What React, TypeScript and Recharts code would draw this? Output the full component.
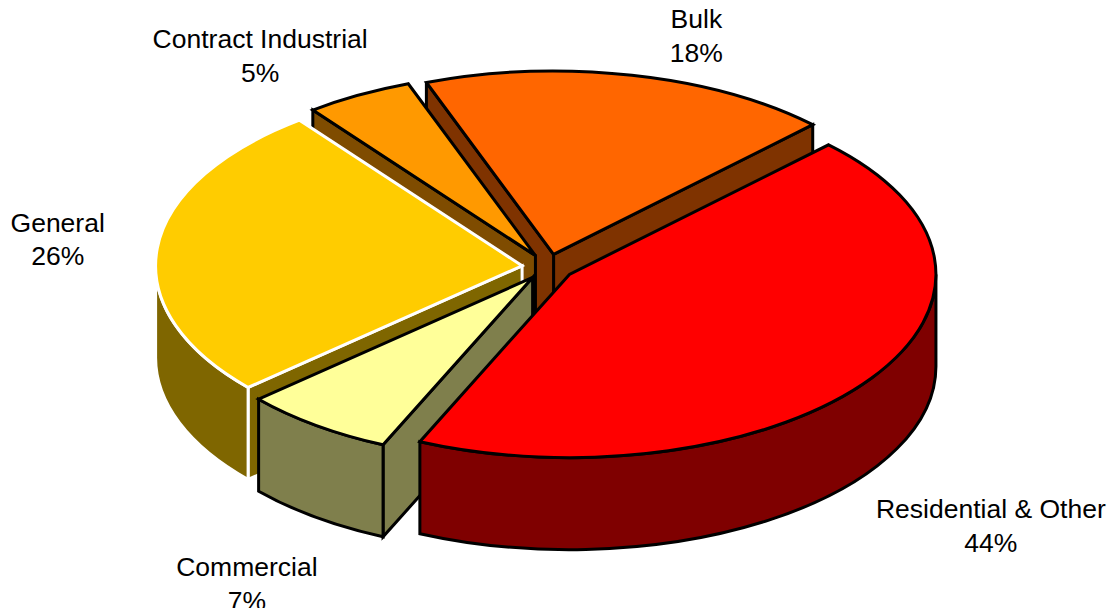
import { PieChart, Pie, Cell } from 'recharts';

// drawn back to front, counter-clockwise from the Bulk / Residential cut
const names = ['Bulk', 'Contract Industrial', 'General', 'Commercial', 'Residential & Other'];
const shares = [18.14, 4.75, 26.17, 6.75, 44.19];
const colors = ['#FF6600', '#FF9900', '#FFCC00', '#FFFF99', '#FF0000'];
const edges = ['#000000', '#000000', '#FFFFFF', '#000000', '#000000'];
const labelShifts = [
  [70, -59.5],
  [-111, -58.5],
  [-125.5, -17.5],
  [-84.5, 161.5],
  [141, 147.5],
];

const CX = 548;
const CY = 267;
const RADIUS = 366.5;
const TILT = 0.5;
const DEPTH = 92;
const EXPLODE = 0.071;

const rad = (deg: number) => (deg * Math.PI) / 180;

function project(x0: number, y0: number, r: number, deg: number) {
  return [x0 + r * Math.cos(rad(deg)), y0 - r * TILT * Math.sin(rad(deg))];
}

function shade(hex: string) {
  const half = (i: number) =>
    Math.floor(parseInt(hex.slice(i, i + 2), 16) / 2)
      .toString(16)
      .padStart(2, '0');
  return `#${half(1)}${half(3)}${half(5)}`;
}

function Slice3D(props: any) {
  const { cx, cy, outerRadius: r, startAngle, endAngle, fill, stroke } = props;
  const mid = (startAngle + endAngle) / 2;
  const [ax, ay] = project(cx, cy, r * EXPLODE, mid);
  const [sx, sy] = project(ax, ay, r, startAngle);
  const [ex, ey] = project(ax, ay, r, endAngle);
  const ry = r * TILT;
  const large = endAngle - startAngle > 180 ? 1 : 0;
  const top = `M${ax},${ay} L${sx},${sy} A${r},${ry} 0 ${large} 0 ${ex},${ey} Z`;

  const wall = shade(fill);
  const line = { stroke, strokeWidth: 3, strokeLinejoin: 'miter' as const, strokeMiterlimit: 3 };

  // cut faces only show when they turn toward the viewer
  const cuts: string[] = [];
  if (Math.sin(rad(startAngle - 90)) < 0) {
    cuts.push(`M${ax},${ay} L${sx},${sy} L${sx},${sy + DEPTH} L${ax},${ay + DEPTH} Z`);
  }
  if (Math.sin(rad(endAngle + 90)) < 0) {
    cuts.push(`M${ax},${ay} L${ex},${ey} L${ex},${ey + DEPTH} L${ax},${ay + DEPTH} Z`);
  }

  // rim wall: the part of the arc on the near half of the ellipse
  const a0 = Math.max(startAngle, 180);
  const a1 = Math.min(endAngle, 360);
  let rim = '';
  if (a1 > a0) {
    const [x0, y0] = project(ax, ay, r, a0);
    const [x1, y1] = project(ax, ay, r, a1);
    rim =
      `M${x0},${y0} A${r},${ry} 0 0 0 ${x1},${y1} L${x1},${y1 + DEPTH} ` +
      `A${r},${ry} 0 0 1 ${x0},${y0 + DEPTH} Z`;
  }

  return (
    <g>
      {cuts.map((d) => (
        <path key={d} d={d} fill={wall} {...line} />
      ))}
      {rim && <path d={rim} fill={wall} {...line} />}
      <path d={top} fill={fill} {...line} />
    </g>
  );
}

function SliceLabel(props: any) {
  const { midAngle, index } = props;
  const [px, py] = project(CX, CY, RADIUS, midAngle);
  const x = px + labelShifts[index][0];
  const y = py + labelShifts[index][1];
  return (
    <text x={x} y={y} textAnchor="middle" fontFamily="Liberation Sans" fontSize={26.5} fill="#000000">
      <tspan x={x}>{names[index]}</tspan>
      <tspan x={x} dy={33.5}>{`${Math.round(shares[index])}%`}</tspan>
    </text>
  );
}

const chartData = names.map((name, i) => ({ name, value: shares[i] }));

export default function App() {
  return (
    <div style={{ margin: -8, width: 1115, height: 616, overflow: 'hidden', background: '#fff' }}>
      <PieChart width={1115} height={616} margin={{ top: 0, right: 0, bottom: 0, left: 0 }}>
        <Pie
          data={chartData}
          dataKey="value"
          nameKey="name"
          cx={CX}
          cy={CY}
          innerRadius={0}
          outerRadius={RADIUS}
          startAngle={45}
          endAngle={405}
          paddingAngle={0}
          labelLine={false}
          label={SliceLabel}
          shape={Slice3D}
          activeShape={Slice3D}
          inactiveShape={Slice3D}
          isAnimationActive={false}
        >
          {chartData.map((entry, i) => (
            <Cell key={entry.name} fill={colors[i]} stroke={edges[i]} />
          ))}
        </Pie>
      </PieChart>
    </div>
  );
}
